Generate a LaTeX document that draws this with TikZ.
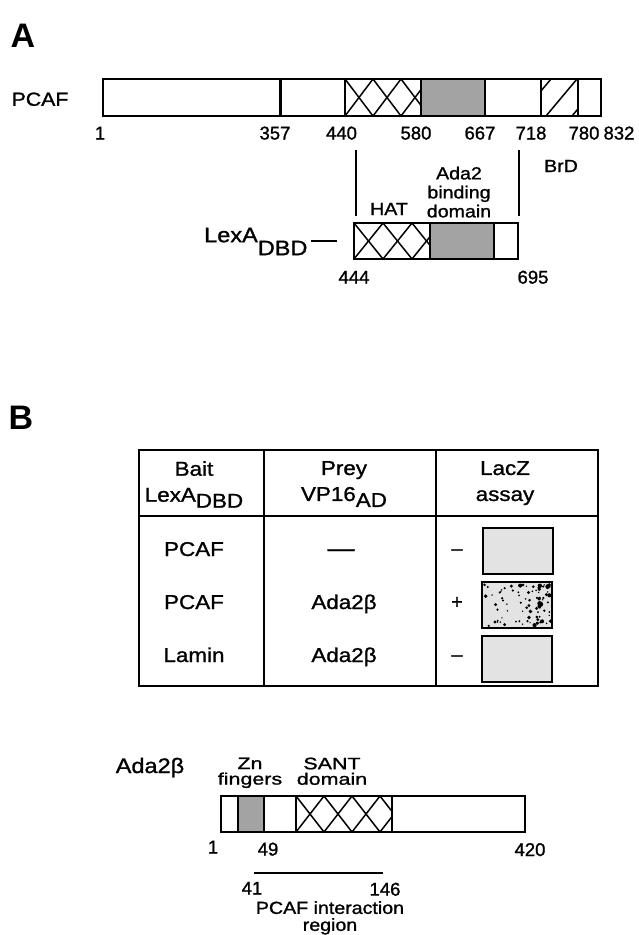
\documentclass[tikz,border=0pt]{standalone}
\usepackage{fontspec}
\setmainfont[FakeBold=1.2]{Liberation Sans}
\newfontfamily\widesf[FakeStretch=1.12,FakeBold=1.2]{Liberation Sans}
\newfontfamily\xwidesf[FakeStretch=1.3,FakeBold=1.2]{Liberation Sans}
\newfontfamily\panelsf{Liberation Sans}
\usetikzlibrary{positioning}
\definecolor{domgrey}{gray}{0.64}
\definecolor{lacgrey}{gray}{0.89}

% font sizes, in pt (1pt = 1px of the figure)
\newcommand{\numfont}{\fontsize{18.5}{19}\selectfont}
\newcommand{\lblfont}{\widesf\fontsize{17.5}{19}\selectfont}
\newcommand{\namefont}{\widesf\fontsize{20}{26}\selectfont}
\newcommand{\panelfont}{\panelsf\bfseries\fontsize{34}{34}\selectfont}

% crosshatched stretch: x1, x2, ytop, ybottom, pitch
\newcommand{\crosshatch}[5]{%
  \begin{scope}
    \clip (#1,#3) rectangle (#2,#4);
    \foreach \k in {-1,...,5}{
      \draw[hatchline] ({#1+\k*#5},#4) -- ({#1+(\k+1)*#5},#3);
      \draw[hatchline] ({#1+\k*#5},#3) -- ({#1+(\k+1)*#5},#4);
    }
  \end{scope}}

\begin{document}
\begin{tikzpicture}[x=1pt, y=-1pt,
    bar/.style={draw=black, line width=2.2pt},
    dom/.style={fill=domgrey},
    hatchline/.style={line width=1.5pt},
    num/.style={font=\numfont, inner sep=0pt, anchor=base},
    txt/.style={font=\namefont, inner sep=0pt, anchor=base},
    lbl/.style={font=\lblfont, inner sep=0pt, align=center},
    panel/.style={font=\panelfont, inner sep=0pt}
  ]
  \useasboundingbox (0,0) rectangle (639,935);

  % ---------------- panel A ----------------
  \node[panel] (labA) at (23,36) {A};
  \node[txt, font=\widesf\fontsize{19}{19}\selectfont] (pcafname) at (40,105.8) {PCAF};

  % PCAF bar
  \fill[dom] (421,79) rectangle (485,116);
  \crosshatch{345}{421}{79}{116}{28}
  \begin{scope}
    \clip (541,79) rectangle (578,116);
    \foreach \k in {0,1,2}
      \draw[hatchline] ({520+26*\k},116) -- ({551+26*\k},79);
  \end{scope}
  \draw[bar] (102.7,79) rectangle (601,116);
  \foreach \xd in {280.5,345,421,485,541,578}
    \draw[bar] (\xd,79) -- (\xd,116);

  \node[num] (n1)   at (100,139.5) {1};
  \node[num] (n357) at (275,139.5) {357};
  \node[num] (n440) at (341.5,139.5) {440};
  \node[num] (n580) at (416,139.5) {580};
  \node[num] (n667) at (480,139.5) {667};
  \node[num] (n718) at (531,139.5) {718};
  \node[num] (n780) at (584,139.5) {780};
  \node[num] (n832) at (619,139.5) {832};

  % fragment used as bait
  \coordinate (cutl) at (356,150);
  \coordinate (cutr) at (519,150);
  \coordinate (cutlb) at (356,216);
  \coordinate (cutrb) at (519,216);
  \draw[bar] (cutl) -- (cutlb);
  \draw[bar] (cutr) -- (cutrb);

  \node[lbl, anchor=base] (hat) at (389,215) {HAT};
  \node[lbl, anchor=north] (ada2bd) at (459,166.5) {Ada2\\binding\\domain};
  \node[lbl, anchor=base] (brd) at (561,172) {BrD};

  \fill[dom] (430,223) rectangle (494,259);
  \crosshatch{354}{430}{223}{259}{29}
  \draw[bar] (354,223) rectangle (518,259);
  \draw[bar] (430,223) -- (430,259);
  \draw[bar] (494,223) -- (494,259);

  \node[txt, anchor=base west, font=\widesf\fontsize{21}{21}\selectfont] (lexa) at (204,242.2)
    {LexA\raisebox{-13pt}{DBD}};
  \coordinate (fusel) at (311,241);
  \coordinate (fuser) at (337,241);
  \draw[bar] (fusel) -- (fuser);

  \node[num] (n444) at (354,283.6) {444};
  \node[num] (n695) at (533,283.6) {695};

  % ---------------- panel B ----------------
  \node[panel] (labB) at (21,418) {B};

  % two-hybrid table
  \draw[bar] (139,450) rectangle (598,686);
  \draw[bar] (264,450) -- (264,686);
  \draw[bar] (436,450) -- (436,686);
  \draw[bar] (139,516) -- (598,516);

  \node[font=\namefont, inner sep=0pt, align=center, anchor=north] (hbait) at (194,461)
    {Bait\\LexA\raisebox{-0.3em}{DBD}};
  \node[font=\namefont, inner sep=0pt, align=center, anchor=north] (hprey) at (344,461)
    {Prey\\VP16\raisebox{-0.3em}{AD}};
  \node[font=\namefont, inner sep=0pt, align=center, anchor=north] (hlacz) at (505,461)
    {LacZ\\assay};

  \node[txt] (bait1) at (194,556) {PCAF};
  \node[txt] (bait2) at (194,609) {PCAF};
  \node[txt] (bait3) at (194,662) {Lamin};
  \node[txt, font=\fontsize{27}{27}\selectfont] (prey1) at (341,557) {—};
  \node[txt] (prey2) at (344,609) {Ada2β};
  \node[txt] (prey3) at (344,662) {Ada2β};
  \node[txt, font=\fontsize{20}{20}\selectfont] (sign1) at (457,555) {–};
  \node[txt, font=\fontsize{20}{20}\selectfont] (sign2) at (457,608.6) {+};
  \node[txt, font=\fontsize{20}{20}\selectfont] (sign3) at (457,661) {–};

  % colony lifts
  \fill[lacgrey] (483,528) rectangle (553,574);
  \fill[lacgrey] (482,582) rectangle (552,628);
  \fill[lacgrey] (482,636) rectangle (552,682);
  \begin{scope}
    \clip (482,582) rectangle (552,628);
    \pgfmathsetseed{17}
    \foreach \i in {1,...,70}{
      \pgfmathsetmacro{\dotx}{484+66*rnd}
      \pgfmathsetmacro{\doty}{584+42*rnd}
      \pgfmathsetmacro{\dotr}{0.7+1.8*rnd*rnd}
      \fill (\dotx,\doty) circle[radius=\dotr pt];
    }
    \foreach \i in {1,...,18}{
      \pgfmathsetmacro{\dotx}{536+15*rnd}
      \pgfmathsetmacro{\doty}{584+42*rnd}
      \pgfmathsetmacro{\dotr}{1+1.5*rnd}
      \fill (\dotx,\doty) circle[radius=\dotr pt];
    }
  \end{scope}
  \draw[bar] (483,528) rectangle (553,574);
  \draw[bar] (482,582) rectangle (552,628);
  \draw[bar] (482,636) rectangle (552,682);

  % Ada2beta map
  \node[txt, font=\widesf\fontsize{21}{21}\selectfont] (ada2name) at (150,773) {Ada2β};
  \node[lbl, anchor=north, font=\xwidesf\fontsize{16.5}{15.5}\selectfont] (zn) at (250,757.5) {Zn\\fingers};
  \node[lbl, anchor=north, font=\xwidesf\fontsize{16.5}{15.5}\selectfont] (sant) at (332,757.5) {SANT\\domain};

  \fill[dom] (238,796) rectangle (264,832);
  \crosshatch{296}{392}{796}{832}{28}
  \draw[bar] (221,796) rectangle (525,832);
  \foreach \xd in {238,264,296,392}
    \draw[bar] (\xd,796) -- (\xd,832);

  \node[num] (m1)   at (213,853.5) {1};
  \node[num] (m49)  at (268,855.5) {49};
  \node[num] (m420) at (530,856) {420};

  \coordinate (regl) at (254,873);
  \coordinate (regr) at (383,873);
  \draw[bar] (regl) -- (regr);
  \node[num] (m41)  at (252,894.6) {41};
  \node[num] (m146) at (385,895.6) {146};
  \node[lbl, anchor=north, font=\widesf\fontsize{17.5}{17}\selectfont] (pcafreg) at (330,901)
    {PCAF interaction\\region};
\end{tikzpicture}
\end{document}
